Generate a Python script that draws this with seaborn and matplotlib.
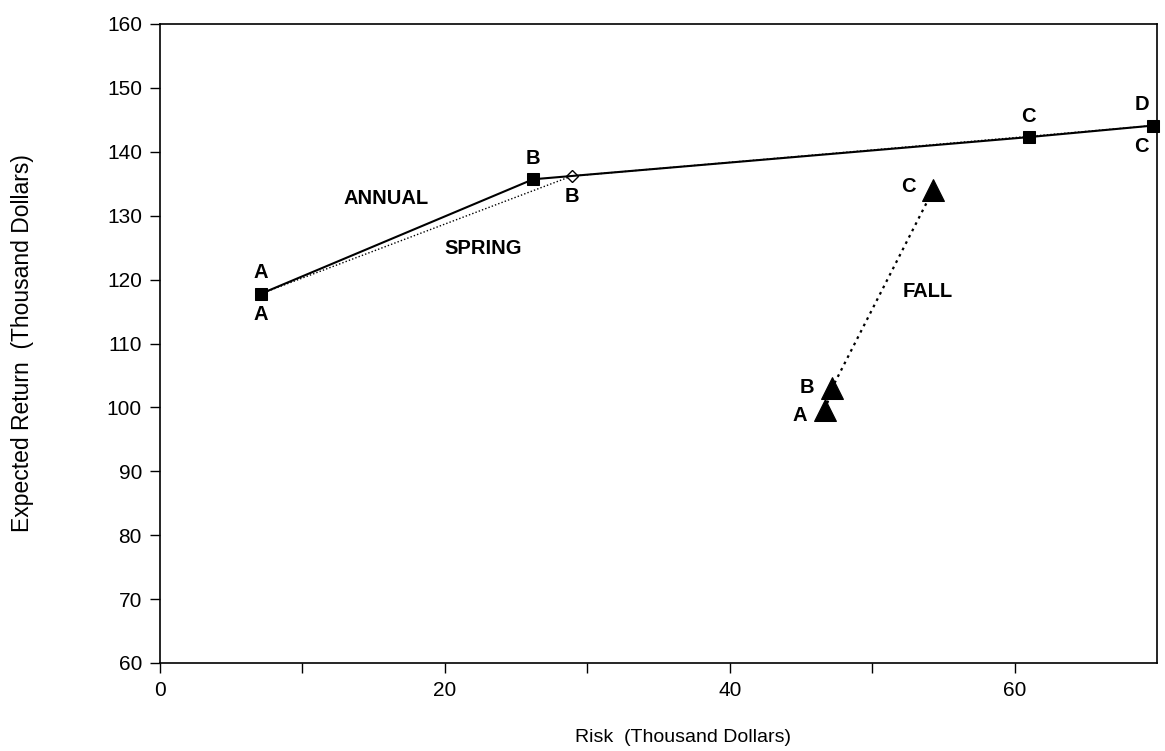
"""
Risk vs expected return - Annual / Spring / Fall
"""

import matplotlib
matplotlib.use('Agg')
import matplotlib.pyplot as plt
import seaborn as sns

sns.set_style('ticks')
plt.rcParams['font.family'] = ['Liberation Sans', 'DejaVu Sans']
plt.rcParams['text.color'] = 'black'
plt.rcParams['axes.labelcolor'] = 'black'

# data (thousand dollars)
annual_x = [7.1, 26.2, 61.0, 69.7]
annual_y = [117.8, 135.7, 142.3, 144.1]
annual_labels = ['A', 'B', 'C', 'D']

spring_x = [7.1, 28.9, 69.7]
spring_y = [117.8, 136.2, 144.1]
spring_labels = ['A', 'B', 'C']

fall_x = [46.7, 47.2, 54.3]
fall_y = [99.6, 103.1, 134.1]
fall_labels = ['A', 'B', 'C']

fig = plt.figure(figsize=(11.65, 7.51), dpi=100)
ax = fig.add_axes([160 / 1165, 88 / 751, 997 / 1165, 639 / 751])

# spring: dotted line, open diamonds (under annual)
sns.lineplot(x=spring_x, y=spring_y, sort=False, estimator=None, ax=ax,
             color='black', linestyle=(0, (1, 1.5)), linewidth=1.0,
             marker='D', markersize=6, markerfacecolor='white',
             markeredgecolor='black', markeredgewidth=1.0, zorder=2)

# annual: solid line, filled squares
sns.lineplot(x=annual_x, y=annual_y, sort=False, estimator=None, ax=ax,
             color='black', linewidth=1.5, marker='s', markersize=8.5,
             markeredgecolor='black', zorder=3, clip_on=False)

# fall: dotted line, big triangles
sns.lineplot(x=fall_x, y=fall_y, sort=False, estimator=None, ax=ax,
             color='black', linestyle=(0, (1.2, 2)), linewidth=1.6,
             marker='^', markersize=16, markeredgecolor='black', zorder=3)

lab = dict(fontsize=14.5, fontweight='bold', textcoords='offset points',
           ha='center', va='center', color='black')
for x, y, t in zip(annual_x, annual_y, annual_labels):
    dx = -8 if t == 'D' else 0
    ax.annotate(t, (x, y), xytext=(dx, 15), annotation_clip=False, **lab)
for x, y, t in zip(spring_x, spring_y, spring_labels):
    dx = -8 if t == 'C' else 0
    ax.annotate(t, (x, y), xytext=(dx, -15), annotation_clip=False, **lab)
for x, y, t in zip(fall_x, fall_y, fall_labels):
    dy = -4 if t == 'A' else (2 if t == 'C' else 0)
    ax.annotate(t, (x, y), xytext=(-18, dy), **lab)

txt = dict(fontsize=14.5, fontweight='bold', ha='center', va='center', color='black')
ax.text(15.9, 132.7, 'ANNUAL', **txt)
ax.text(22.7, 124.9, 'SPRING', **txt)
ax.text(53.9, 118.2, 'FALL', **txt)

ax.set_xlim(0, 70)
ax.set_ylim(60, 160)
ax.set_xticks(range(0, 70, 10))
ax.set_xticklabels(['0', '', '20', '', '40', '', '60'])
ax.set_yticks(range(60, 161, 10))
ax.tick_params(direction='out', length=7, width=1, labelsize=15, colors='black', pad=6)

for s in ax.spines.values():
    s.set_color('black')
    s.set_linewidth(1.2)

ax.set_xlabel('Risk  (Thousand Dollars)', fontsize=14)
ax.set_ylabel('Expected Return  (Thousand Dollars)', fontsize=16.5)
ax.xaxis.set_label_coords(0.525, -0.103)
ax.yaxis.set_label_coords(-0.126, 0.5)

plt.savefig('out.png', dpi=100)
